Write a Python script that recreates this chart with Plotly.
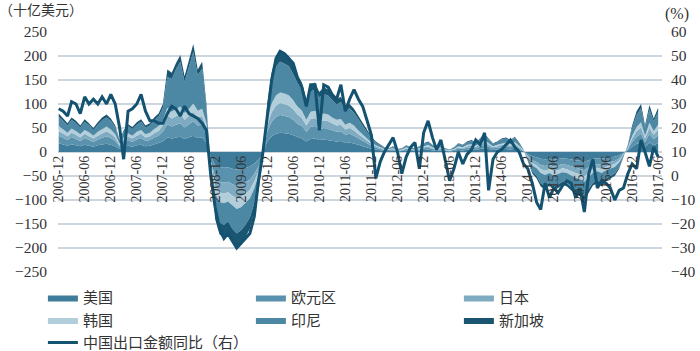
import pandas as pd
import plotly.graph_objects as go

# Months 2005-12 .. 2017-06
months = pd.date_range("2005-12-01", periods=139, freq="MS")

tick_labels = ["2005-12", "2006-06", "2006-12", "2007-06", "2007-12", "2008-06",
               "2008-12", "2009-06", "2009-12", "2010-06", "2010-12", "2011-06",
               "2011-12", "2012-06", "2012-12", "2013-06", "2013-12", "2014-06",
               "2014-12", "2015-06", "2015-12", "2016-06", "2016-12", "2017-06"]

us = [18, 15, 13, 16, 14, 12, 15, 13, 11, 14, 16, 17,
      15, 12, 6, 10, 13, 11, 14, 15, 12, 13, 16, 18,
      22, 30, 28, 30, 32, 27, 30, 34, 29, 30, 20, -9,
      -28, -32, -33, -32, -35, -37, -36, -33, -30, -24, -16, -3,
      22, 33, 38, 40, 39, 38, 35, 31, 28, 22, 27, 28,
      25, 26, 25, 24, 22, 23, 19, 20, 18, 15, 12, 9,
      7, 5, 3, 2, 2, 3, 1, 2, 3, 2, 2, 3,
      4, 5, 3, 2, 3, 2, 1, 2, 4, 3, 5, 5,
      4, 6, 8, 6, 4, 5, 6, 6, 5, 7, 4, 1,
      -4, -9, -11, -14, -15, -14, -16, -15, -13, -14, -16, -17,
      -18, -20, -17, -14, -13, -14, -12, -11, -10, -7, -2, 3,
      11, 17, 20, 11, 20, 14, 18]
eu = [16, 14, 12, 15, 13, 11, 14, 12, 10, 12, 14, 16,
      14, 11, 5, 9, 12, 10, 12, 14, 11, 12, 14, 16,
      20, 28, 25, 27, 28, 24, 27, 30, 26, 27, 18, -8,
      -25, -30, -31, -30, -32, -34, -33, -31, -28, -22, -14, -3,
      20, 30, 35, 37, 36, 35, 32, 28, 26, 20, 25, 26,
      22, 24, 23, 21, 20, 20, 17, 18, 16, 13, 11, 8,
      6, 4, 3, 2, 2, 2, 1, 1, 3, 2, 1, 2,
      4, 4, 3, 2, 3, 1, 1, 2, 4, 3, 4, 5,
      4, 6, 7, 5, 4, 4, 5, 6, 5, 6, 4, 1,
      -4, -8, -10, -13, -14, -13, -14, -13, -12, -13, -14, -16,
      -17, -18, -15, -13, -12, -13, -11, -10, -9, -6, -2, 3,
      10, 15, 18, 10, 18, 13, 17]
jp = [10, 9, 8, 9, 9, 7, 9, 8, 7, 8, 9, 10,
      9, 7, 3, 6, 7, 7, 8, 9, 7, 8, 9, 10,
      13, 18, 17, 18, 19, 16, 18, 20, 17, 18, 12, -5,
      -18, -22, -23, -22, -24, -26, -25, -23, -21, -16, -10, -2,
      13, 20, 24, 25, 25, 24, 22, 19, 17, 13, 17, 17,
      15, 16, 16, 14, 13, 14, 11, 12, 11, 9, 7, 6,
      4, 3, 2, 1, 1, 2, 1, 1, 2, 1, 1, 2,
      2, 3, 2, 1, 2, 1, 1, 1, 2, 2, 3, 3,
      3, 4, 5, 4, 2, 3, 4, 4, 3, 4, 3, 1,
      -3, -6, -7, -9, -10, -9, -10, -10, -9, -9, -10, -11,
      -12, -13, -11, -9, -8, -9, -8, -7, -6, -5, -1, 2,
      7, 11, 13, 7, 12, 9, 12]
kr = [10, 9, 7, 9, 8, 7, 8, 8, 6, 8, 9, 10,
      9, 7, 3, 5, 7, 6, 8, 8, 7, 7, 9, 10,
      12, 16, 14, 15, 16, 14, 15, 17, 14, 15, 10, -5,
      -16, -20, -20, -19, -21, -22, -21, -20, -18, -14, -9, -2,
      12, 18, 21, 22, 22, 21, 19, 17, 15, 12, 15, 15,
      13, 14, 14, 13, 12, 12, 10, 11, 10, 8, 7, 5,
      3, 2, 2, 1, 1, 1, 1, 1, 2, 1, 1, 1,
      2, 3, 2, 1, 2, 1, 1, 1, 2, 2, 3, 3,
      2, 4, 5, 3, 2, 3, 3, 4, 3, 4, 2, 1,
      -2, -5, -6, -8, -9, -8, -9, -8, -8, -8, -9, -10,
      -10, -11, -9, -8, -7, -8, -7, -6, -6, -4, -1, 2,
      6, 9, 11, 6, 11, 8, 10]
idn = [20, 18, 15, 18, 16, 14, 17, 15, 12, 15, 18, 19,
       18, 14, 6, 11, 15, 14, 15, 17, 14, 15, 18, 20,
       25, 65, 68, 82, 93, 65, 86, 108, 74, 84, 32, -10,
       -33, -43, -45, -42, -48, -51, -48, -45, -40, -31, -19, -3,
       25, 48, 60, 64, 62, 61, 54, 49, 44, 32, 42, 44,
       38, 41, 39, 36, 32, 35, 29, 30, 27, 23, 17, 13,
       9, 6, 4, 3, 1, 3, 1, 2, 3, 3, 2, 3,
       5, 5, 4, 3, 3, 2, 1, 3, 5, 4, 5, 7,
       5, 8, 10, 8, 5, 5, 8, 8, 7, 9, 5, 1,
       -5, -13, -16, -21, -23, -20, -24, -22, -20, -21, -24, -26,
       -27, -29, -25, -20, -19, -21, -17, -16, -14, -10, -3, 4,
       16, 25, 29, 16, 28, 20, 27]
sg = [6, 5, 5, 5, 5, 4, 5, 4, 4, 5, 6, 6,
      5, 4, 2, 4, 4, 4, 5, 5, 4, 5, 6, 6,
      8, 15, 13, 13, 14, 12, 14, 16, 12, 14, 8, -3,
      -20, -25, -26, -25, -28, -30, -29, -26, -23, -18, -12, -2,
      8, 16, 20, 22, 21, 21, 18, 16, 15, 11, 14, 15,
      12, 14, 13, 12, 11, 11, 9, 9, 8, 7, 6, 4,
      3, 2, 1, 1, 1, 1, 1, 1, 1, 1, 1, 1,
      1, 2, 1, 1, 1, 1, 0, 1, 1, 1, 2, 2,
      2, 2, 3, 2, 1, 2, 2, 2, 2, 2, 2, 0,
      -2, -4, -5, -7, -7, -6, -7, -7, -6, -7, -7, -8,
      -8, -9, -8, -6, -6, -7, -5, -5, -5, -3, -1, 1,
      5, 8, 9, 5, 9, 6, 8]

china_export_yoy = [28, 27, 25, 31, 30, 26, 33, 30, 32, 30, 33, 30,
                    34, 30, 20, 7, 27, 28, 30, 34, 27, 23, 23, 22,
                    22, 26, 29, 28, 25, 29, 26, 25, 24, 22, 19, 0,
                    -13, -22, -26, -24, -27, -30, -28, -26, -24, -17, -2, 10,
                    26, 40, 49, 52, 51, 49, 47, 41, 37, 29, 38, 38,
                    19, 38, 37, 34, 32, 38, 27, 32, 36, 32, 29, 23,
                    17, -1, 6, 10, 13, 16, 10, 1, 8, 12, 14, 3,
                    18, 23, 16, 11, 15, 7, -2, 3, 10, 5, 9, 11,
                    15, 13, 18, -6, 7, 10, 11, 13, 15, 12, 10, 5,
                    3, -3, -11, -14, -3, -9, -5, -7, -4, -2, -3, -9,
                    -5, -15, 1, 7, -5, -2, -3, -5, -10, -6, -5, 1,
                    5, 3, 15, 10, 4, 12, 8]

series = [("美国", us, "#3f7c9b"),
          ("欧元区", eu, "#5a91ad"),
          ("日本", jp, "#7eabc2"),
          ("韩国", kr, "#b2cedb"),
          ("印尼", idn, "#4c87a4"),
          ("新加坡", sg, "#1a5672")]

fig = go.Figure()
for name, vals, col in series:
    fig.add_trace(go.Scatter(
        x=months, y=vals, name=name, mode="lines", stackgroup="one",
        line=dict(width=0, color=col), fillcolor=col))

fig.add_trace(go.Scatter(
    x=months, y=china_export_yoy, name="中国出口金额同比（右）", mode="lines",
    line=dict(width=3, color="#135270"), yaxis="y2"))

serif = "Liberation Serif"
cjk = "Noto Sans CJK SC"
grid = "#cdd6dc"

fig.update_layout(
    width=700, height=351,
    margin=dict(l=58, r=38, t=31.5, b=79, autoexpand=False),
    paper_bgcolor="white", plot_bgcolor="white",
    showlegend=True,
    xaxis=dict(
        type="date", range=["2005-11-26", "2017-06-28"],
        tickvals=[pd.Timestamp(t + "-01") for t in tick_labels],
        ticktext=tick_labels, tickangle=-90,
        tickfont=dict(family=serif, size=14, color="#333333"),
        showgrid=False, zeroline=False, showline=False, ticks="",
        anchor="free", position=0.5),
    yaxis=dict(
        range=[-250, 250], tickvals=list(range(-250, 251, 50)),
        tickfont=dict(family=serif, size=15.5, color="#333333"),
        showgrid=True, gridcolor=grid, gridwidth=1.5,
        zeroline=False, showline=False, ticks="", ticklabelstandoff=10),
    yaxis2=dict(
        range=[-40, 60], tickvals=list(range(-40, 61, 10)),
        overlaying="y", side="right",
        tickfont=dict(family=serif, size=15.5, color="#333333"),
        showgrid=False, zeroline=False, showline=False, ticks="",
        ticklabelstandoff=8),
    legend=dict(
        orientation="h", x=-0.025, xanchor="left", y=-0.039, yanchor="top",
        entrywidth=163, entrywidthmode="pixels", traceorder="normal",
        font=dict(family=cjk, size=15, color="#333333"),
        bgcolor="rgba(0,0,0,0)", tracegroupgap=0),
    annotations=[
        dict(text="（十亿美元）", xref="paper", yref="paper",
             x=-0.101, y=1.094, xanchor="left", yanchor="middle",
             showarrow=False, font=dict(family=cjk, size=14, color="#333333")),
        dict(text="(%)", xref="paper", yref="paper",
             x=1.0248, y=1.077, xanchor="center", yanchor="middle",
             showarrow=False, font=dict(family=serif, size=16, color="#333333")),
    ],
)

fig.write_html("out.html")
